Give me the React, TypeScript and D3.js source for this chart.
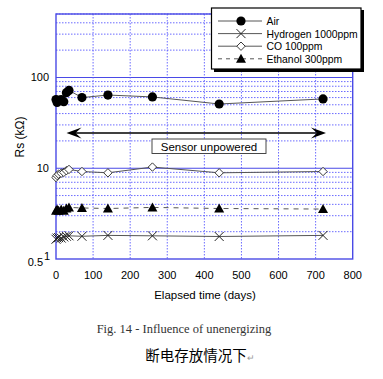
import React from "react";
import * as d3 from "d3";

const days = [0, 3, 7, 14, 21, 28, 35, 70, 140, 260, 440, 720];
const air = [57, 53, 56, 57, 54, 68, 72, 60, 64, 61, 51, 58];
const hydrogen = [1.65, 1.7, 1.72, 1.7, 1.75, 1.78, 1.8, 1.78, 1.82, 1.8, 1.77, 1.82];
const co = [7.9, 8.3, 8.6, 8.8, 9.0, 9.4, 9.7, 9.2, 8.9, 10.3, 8.9, 9.2];
const ethanol = [3.4, 3.5, 3.4, 3.5, 3.4, 3.6, 3.7, 3.65, 3.6, 3.7, 3.6, 3.55];
const xTicks = [0, 100, 200, 300, 400, 500, 600, 700, 800];
const legendLabels = ["Air", "Hydrogen 1000ppm", "CO 100ppm", "Ethanol 300ppm"];

const W = 383, H = 379;
const L = 56, R = 352.7, T = 14, B = 259;
const BLUE = "#4a4ae6";
const SANS = "Liberation Sans, Arial, sans-serif";

function Marker({ type, x, y }: { type: string; x: number; y: number }) {
  if (type === "circle") return <circle cx={x} cy={y} r={4.6} fill="#000" />;
  if (type === "cross")
    return (
      <g stroke="#222" strokeWidth={1}>
        <line x1={x - 4.5} y1={y - 4.5} x2={x + 4.5} y2={y + 4.5} />
        <line x1={x - 4.5} y1={y + 4.5} x2={x + 4.5} y2={y - 4.5} />
      </g>
    );
  if (type === "diamond")
    return (
      <path d={`M${x},${y - 4.2}L${x + 4.2},${y}L${x},${y + 4.2}L${x - 4.2},${y}Z`} fill="#fff" stroke="#222" strokeWidth={0.9} />
    );
  return <path d={`M${x},${y - 5}L${x + 5},${y + 4}L${x - 5},${y + 4}Z`} fill="#000" />;
}

export default function App() {
  const x = d3.scaleLinear().domain([0, 800]).range([L, R]);
  const y = d3.scaleLog().domain([1, 500]).range([B, T]);
  const line = d3.line<number>().x((_, i) => x(days[i])).y((d) => y(d));
  const series = [
    { vals: air, type: "circle", dash: "" },
    { vals: hydrogen, type: "cross", dash: "" },
    { vals: co, type: "diamond", dash: "" },
    { vals: ethanol, type: "triangle", dash: "5,5" },
  ];
  const minor: number[] = [];
  [1, 10, 100].forEach((dec) => {
    for (let k = 2; k <= 9; k++) {
      const v = dec * k;
      if (v <= 500) minor.push(v);
    }
  });
  const arrowY = 133;
  const ax1 = 66.5, ax2 = 326;
  return (
    <svg width={W} height={H} style={{ position: "absolute", left: 0, top: 0 }}>
      <rect width={W} height={H} fill="#fff" />
      {/* grid */}
      {minor.map((v) => (
        <line key={"m" + v} x1={L} x2={R} y1={y(v)} y2={y(v)} stroke="#5a5aff" strokeWidth={0.9} strokeDasharray="1.5,1.5" />
      ))}
      {[10, 100].map((v) => (
        <line key={"d" + v} x1={L} x2={R} y1={y(v)} y2={y(v)} stroke={BLUE} strokeWidth={1.1} />
      ))}
      {xTicks.slice(1, -1).map((t) => (
        <line key={"v" + t} x1={x(t)} x2={x(t)} y1={T} y2={B} stroke="#5a5aff" strokeWidth={0.9} strokeDasharray="1.5,1.5" />
      ))}
      <rect x={L} y={T} width={R - L} height={B - T} fill="none" stroke={BLUE} strokeWidth={1.4} />
      {/* series lines */}
      {series.map((s, i) => (
        <path key={"l" + i} d={line(s.vals) || ""} fill="none" stroke="#555" strokeWidth={1} strokeDasharray={s.dash} />
      ))}
      {series.map((s, i) =>
        s.vals.map((v, j) => <Marker key={`p${i}-${j}`} type={s.type} x={x(days[j])} y={y(v)} />)
      )}
      {/* arrow */}
      <line x1={ax1 + 8} x2={ax2 - 8} y1={arrowY} y2={arrowY} stroke="#000" strokeWidth={1.3} />
      <path d={`M${ax1},${arrowY}L${ax1 + 15},${arrowY - 5.5}L${ax1 + 9},${arrowY}L${ax1 + 15},${arrowY + 5.5}Z`} fill="#000" />
      <path d={`M${ax2},${arrowY}L${ax2 - 15},${arrowY - 5.5}L${ax2 - 9},${arrowY}L${ax2 - 15},${arrowY + 5.5}Z`} fill="#000" />
      <rect x={152} y={139} width={114} height={14.5} fill="#fff" stroke="#333" strokeWidth={0.9} />
      <text x={209} y={150.5} textAnchor="middle" fontFamily={SANS} fontSize={11.5} fill="#000">Sensor unpowered</text>
      {/* legend */}
      <rect x={214} y={10} width={150} height={62} fill="#000" />
      <rect x={211.5} y={8} width={149.5} height={61} fill="#fff" stroke="#000" strokeWidth={1.2} />
      {legendLabels.map((lab, i) => {
        const ly = 21 + i * 12.6;
        return (
          <g key={lab}>
            <line x1={218} x2={262} y1={ly} y2={ly} stroke="#444" strokeWidth={0.9} strokeDasharray={series[i].dash ? "4,4" : ""} />
            <Marker type={series[i].type} x={241} y={ly} />
            <text x={266.5} y={ly + 4} fontFamily={SANS} fontSize={10.4} fill="#000">{lab}</text>
          </g>
        );
      })}
      {/* axes labels */}
      {xTicks.map((t) => (
        <text key={"xt" + t} x={x(t)} y={279} textAnchor="middle" fontFamily={SANS} fontSize={11} fill="#000">{t}</text>
      ))}
      <text x={49} y={81} textAnchor="end" fontFamily={SANS} fontSize={11} fill="#000">100</text>
      <text x={49} y={172} textAnchor="end" fontFamily={SANS} fontSize={11} fill="#000">10</text>
      <text x={43} y={266} textAnchor="end" fontFamily={SANS} fontSize={11} fill="#000">0.5</text>
      <text x={44} y={260} fontFamily={SANS} fontSize={11} fill="#000">1</text>
      <text x={205} y={299} textAnchor="middle" fontFamily={SANS} fontSize={11.5} fill="#000">Elapsed time (days)</text>
      <text transform="translate(24,137) rotate(-90)" textAnchor="middle" fontFamily={SANS} fontSize={12} fill="#000">Rs (kΩ)</text>
      <text x={184} y={333} textAnchor="middle" fontFamily="Liberation Serif, serif" fontSize={12.5} fill="#333">Fig. 14 - Influence of unenergizing</text>
      <text x={200} y={361} textAnchor="middle" fontFamily="Noto Sans CJK SC, sans-serif" fontSize={14.5} fill="#000">断电存放情况下<tspan fontSize={9} fill="#999">↵</tspan></text>
    </svg>
  );
}
